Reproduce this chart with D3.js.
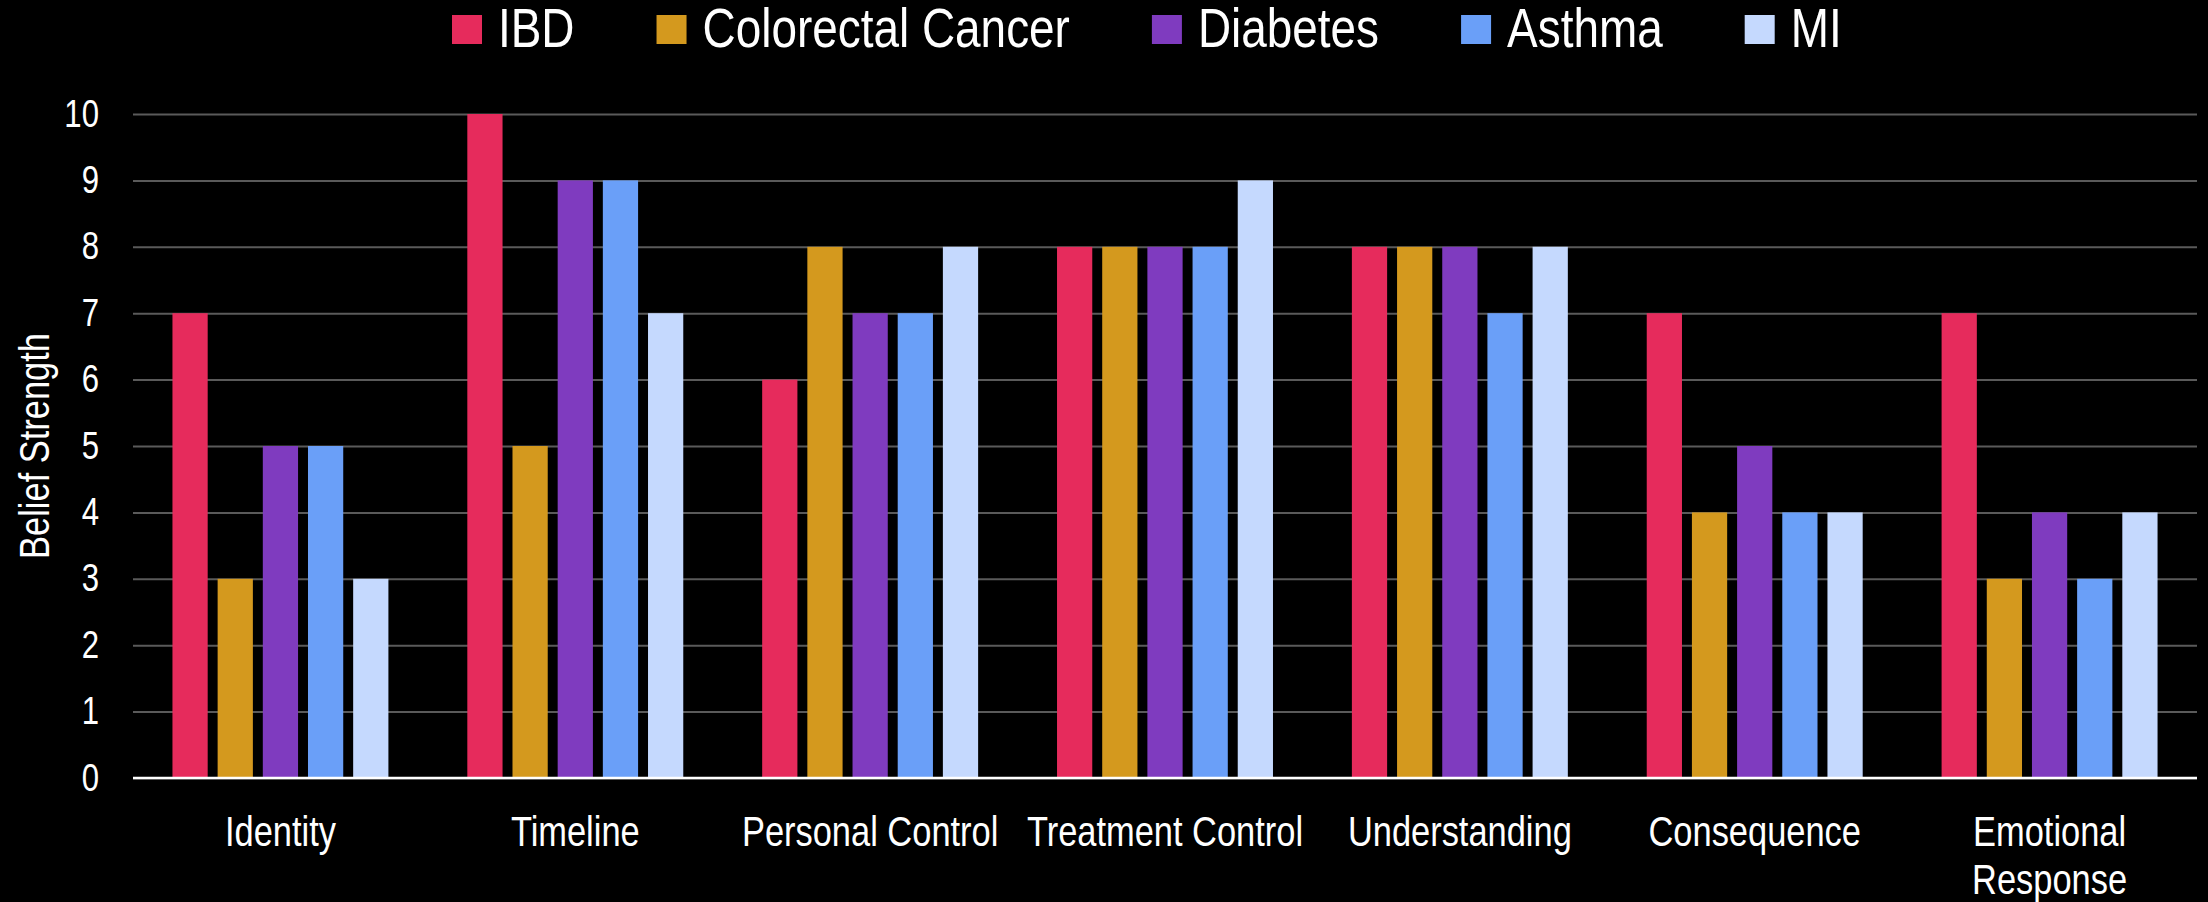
<!DOCTYPE html>
<html>
<head>
<meta charset="utf-8">
<script src="https://cdn.jsdelivr.net/npm/d3@7"></script>
<style>
  body { margin: 0; background: #000; }
  svg { display: block; }
  text { font-family: "Liberation Sans", Arial, sans-serif; fill: #fff; }
</style>
</head>
<body>
<div id="chart"></div>
<script>
var categories = ["Identity", "Timeline", "Personal Control", "Treatment Control", "Understanding", "Consequence", "Emotional Response"];
var series = ["IBD", "Colorectal Cancer", "Diabetes", "Asthma", "MI"];
var colors = ["#e62b5c", "#d4991e", "#7f3bbf", "#6a9ff8", "#c5d9fe"];
var ibd      = [7, 10, 6, 8, 8, 7, 7];
var colorect = [3, 5, 8, 8, 8, 4, 3];
var diabetes = [5, 9, 7, 8, 8, 5, 4];
var asthma   = [5, 9, 7, 8, 7, 4, 3];
var mi       = [3, 7, 8, 9, 8, 4, 4];
var yTicks = [0, 1, 2, 3, 4, 5, 6, 7, 8, 9, 10];

var values = [ibd, colorect, diabetes, asthma, mi];

var W = 2208, H = 902;
var plotL = 133, plotR = 2197, plotT = 114, plotB = 778;
var sx = 0.82; // text is drawn narrow, like the reference

var svg = d3.select("#chart").append("svg")
    .attr("width", W)
    .attr("height", H)
    .style("background", "#000");

var x0 = d3.scaleBand().domain(categories).range([plotL, plotR])
    .paddingInner(0.2676).paddingOuter(0.1338);
var x1 = d3.scaleBand().domain(series).range([0, x0.bandwidth()]).paddingInner(0.22);
var y = d3.scaleLinear().domain([0, 10]).range([plotB, plotT]);

// gridlines + y labels
var yAxis = svg.append("g")
    .attr("transform", "translate(" + plotL + ",0)")
    .call(d3.axisLeft(y).tickValues(yTicks).tickSize(-(plotR - plotL)).tickPadding(34).tickFormat(d3.format("d")));
yAxis.select(".domain").remove();
yAxis.selectAll(".tick line").attr("stroke", "#5a5a5a").attr("stroke-width", 2);
yAxis.selectAll(".tick text")
    .attr("fill", "#fff")
    .style("font-size", "38px")
    .attr("x", -34 / sx)
    .attr("transform", "scale(" + sx + ",1)");

// bars
categories.forEach(function(c, i) {
  svg.append("g")
    .attr("transform", "translate(" + x0(c) + ",0)")
    .selectAll("rect")
    .data(series)
    .enter()
    .append("rect")
    .attr("x", function(s) { return x1(s); })
    .attr("width", x1.bandwidth())
    .attr("y", function(s, j) { return y(values[j][i]); })
    .attr("height", function(s, j) { return y(0) - y(values[j][i]); })
    .attr("fill", function(s, j) { return colors[j]; });
});

// baseline
svg.append("line")
    .attr("x1", plotL).attr("x2", plotR)
    .attr("y1", y(0)).attr("y2", y(0))
    .attr("stroke", "#fff").attr("stroke-width", 2.5);

// x labels
var xAxis = svg.append("g")
    .attr("transform", "translate(0," + y(0) + ")")
    .call(d3.axisBottom(x0).tickSize(0).tickPadding(0));
xAxis.select(".domain").remove();
xAxis.selectAll(".tick text")
    .attr("fill", "#fff")
    .style("font-size", "42px")
    .attr("dy", null)
    .attr("y", 0)
    .attr("transform", "scale(" + sx + ",1)")
    .each(function(d) {
      var t = d3.select(this);
      t.text(null);
      var probe = t.append("tspan").text(d);
      var w = probe.node().getComputedTextLength() * sx;
      probe.remove();
      var lines = (w > x0.step() * 0.98) ? d.split(" ") : [d];
      lines.forEach(function(ln, k) {
        t.append("tspan").attr("x", 0).attr("y", 68 + k * 48).text(ln);
      });
    });

// y title
svg.append("text")
    .attr("transform", "translate(49," + ((plotT + plotB) / 2) + ") rotate(-90) scale(" + sx + ",1)")
    .attr("text-anchor", "middle")
    .style("font-size", "42px")
    .text("Belief Strength");

// legend
var legend = svg.append("g");
var lx = 452;
series.forEach(function(s, j) {
  legend.append("rect")
    .attr("x", lx).attr("y", 15)
    .attr("width", 30).attr("height", 29)
    .attr("fill", colors[j]);
  var t = legend.append("text")
    .attr("transform", "translate(" + (lx + 46) + ",47) scale(" + sx + ",1)")
    .style("font-size", "56px")
    .text(s);
  lx += 46 + t.node().getComputedTextLength() * sx + 82;
});
</script>
</body>
</html>
